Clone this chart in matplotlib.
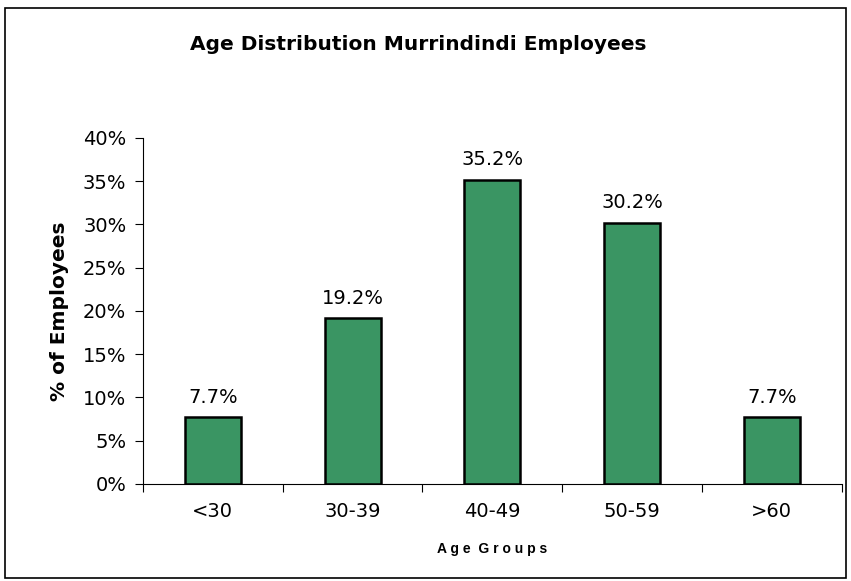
import matplotlib.pyplot as plt
from matplotlib.patches import Rectangle
import numpy as np

groups = ["<30", "30-39", "40-49", "50-59", ">60"]
pct = [7.7, 19.2, 35.2, 30.2, 7.7]
yticks = [0, 5, 10, 15, 20, 25, 30, 35, 40]

fig = plt.figure(figsize=(8.51, 5.81), dpi=100)
ax = fig.add_axes([0.168, 0.167, 0.821, 0.5955])

x = np.arange(len(groups))
bars = ax.bar(x, pct, width=0.4, color="#3A9563", edgecolor="black", linewidth=1.8)

for bar, v in zip(bars, pct):
    ax.text(bar.get_x() + bar.get_width() / 2, v + 1.2, f"{v:.1f}%",
            ha="center", va="bottom", fontsize=14)

ax.set_xlim(-0.5, len(groups) - 0.5)
ax.set_ylim(0, 40)
ax.set_yticks(yticks)
ax.set_yticklabels([f"{t}%" for t in yticks], fontsize=14)
ax.set_xticks(x)
ax.set_xticklabels(groups, fontsize=14)
ax.set_xticks(np.arange(len(groups) + 1) - 0.5, minor=True)
ax.tick_params(axis="x", which="major", length=0, pad=13)
ax.tick_params(axis="x", which="minor", length=6, direction="out", width=0.8)
ax.tick_params(axis="y", length=6, direction="out", width=0.8, pad=6)

ax.spines["top"].set_visible(False)
ax.spines["right"].set_visible(False)
ax.spines["left"].set_linewidth(0.8)
ax.spines["bottom"].set_linewidth(0.8)

ax.set_ylabel("% of Employees", fontsize=14.5, fontweight="bold", labelpad=10)
ax.set_xlabel("A g e  G r o u p s", fontsize=10, fontweight="bold",
              family="Liberation Sans", labelpad=15)

fig.text(0.492, 0.924, "Age Distribution Murrindindi Employees",
         ha="center", va="center", fontsize=14.5, fontweight="bold")

fig.patches.append(Rectangle((0.006, 0.006), 0.988, 0.981, transform=fig.transFigure,
                             fill=False, edgecolor="black", linewidth=1.2))

fig.savefig("out.png", dpi=100)
